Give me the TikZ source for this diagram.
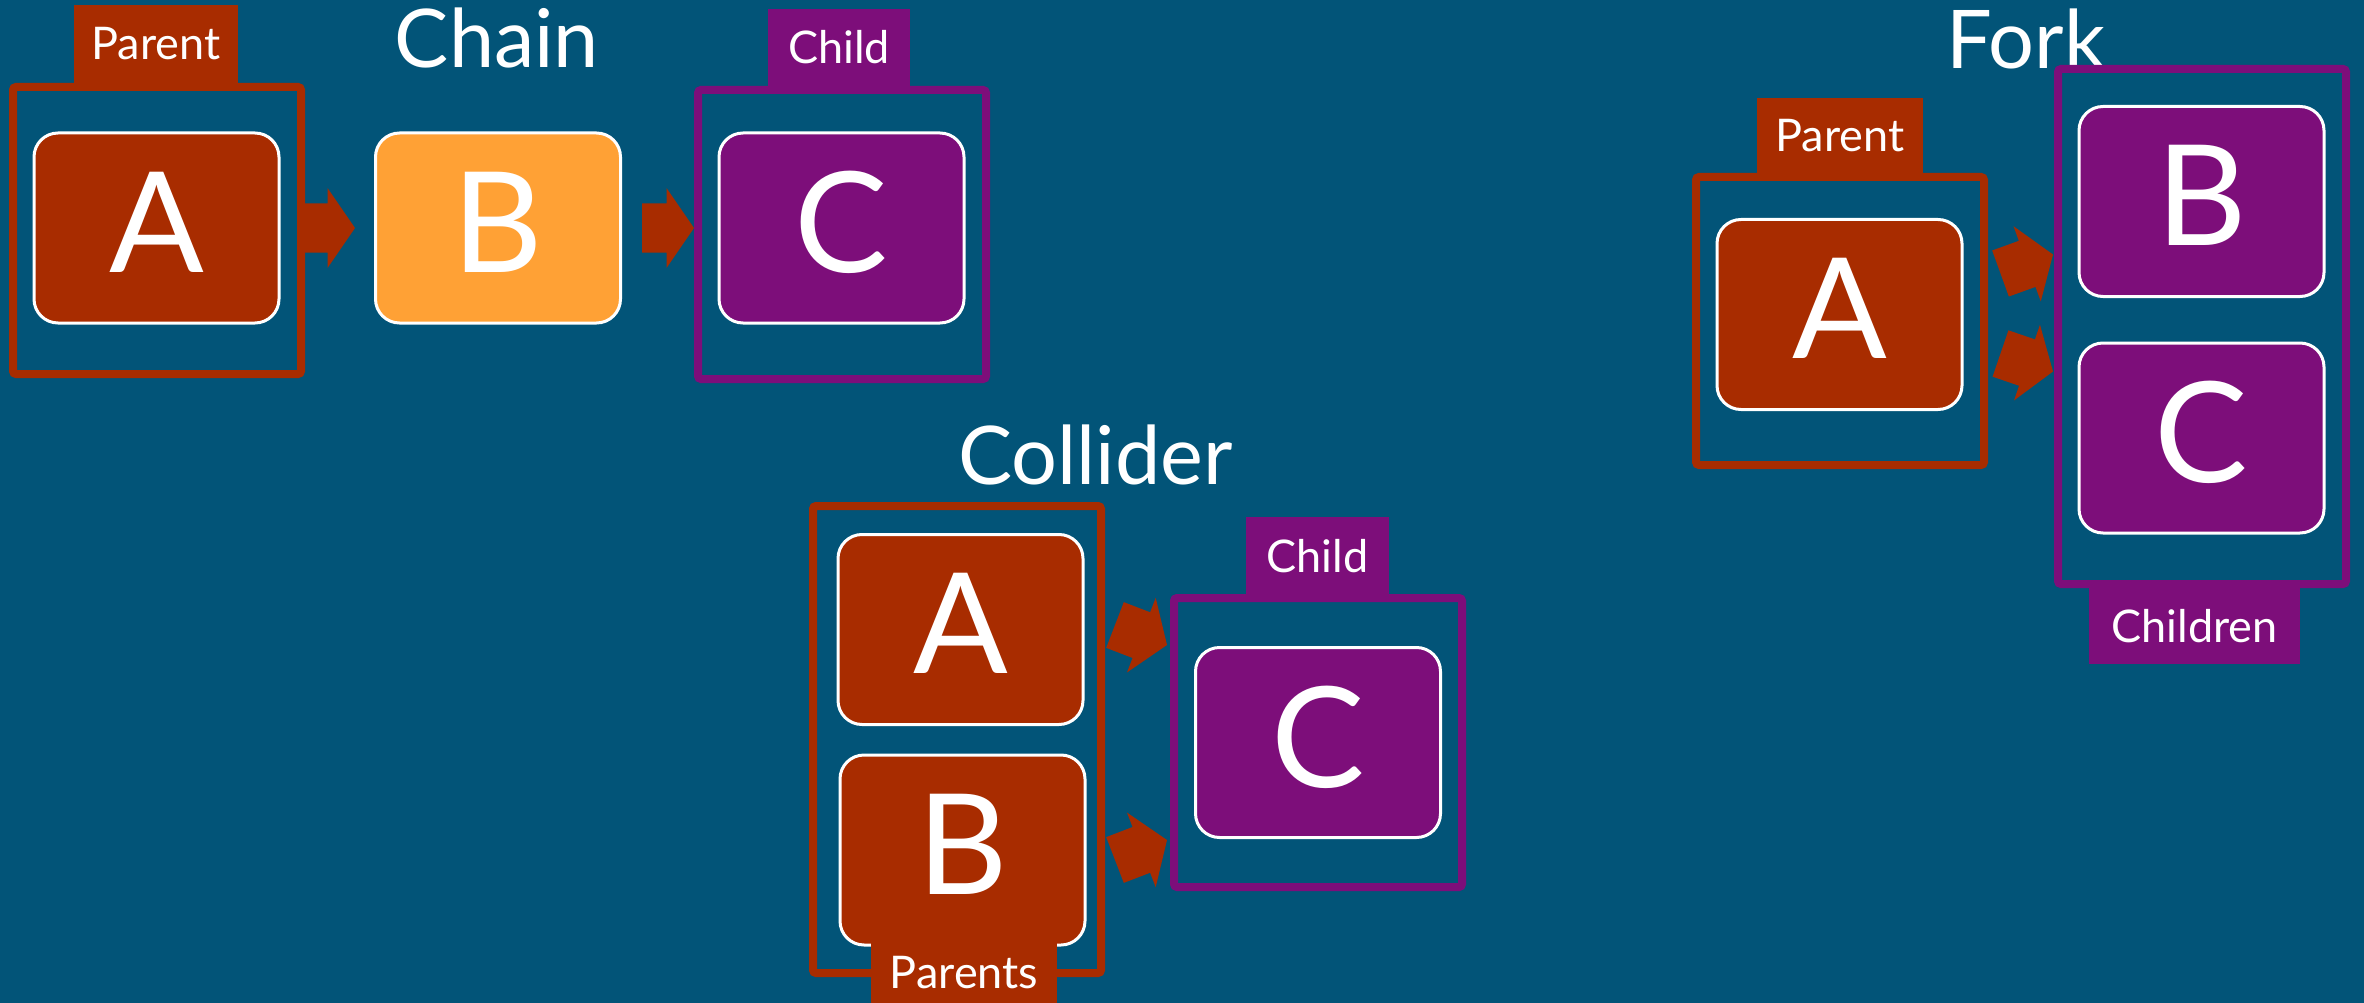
\documentclass[tikz,border=0pt]{standalone}
\usepackage{fontspec}
\setmainfont{Lato}
\usetikzlibrary{calc}

\definecolor{bgblue}{RGB}{2,84,120}
\definecolor{rust}{RGB}{168,44,0}
\definecolor{amber}{RGB}{255,161,53}
\definecolor{plum}{RGB}{125,14,122}

% block arrow from tail coordinate #1 to tip coordinate #2
\newcommand\blockarrow[2]{%
  \path ($(#2)!27.5pt!(#1)$) coordinate (neck);
  \fill[rust] ($(#1)!24.5pt!90:(#2)$) -- ($(neck)!24.5pt!90:(#2)$)
    -- ($(neck)!40pt!90:(#2)$) -- (#2) -- ($(neck)!40pt!-90:(#2)$)
    -- ($(neck)!24.5pt!-90:(#2)$) -- ($(#1)!24.5pt!-90:(#2)$) -- cycle;}

\tikzset{
  groupframe/.style={draw=#1, line width=8pt, rounded corners=3pt, inner sep=0pt, minimum width=288pt},
  tagbox/.style={fill=#1, inner sep=0pt, text=white, font=\fontsize{45}{54}\selectfont},
  varbox/.style={fill=#1, draw=white, line width=3pt, rounded corners=24pt, inner sep=0pt,
    minimum width=245pt, minimum height=190pt, text=white, text depth=12pt,
    font=\fontsize{140}{160}\selectfont},
  heading/.style={text=white, inner sep=0pt, anchor=base, font=\fontsize{81}{96}\selectfont}
}

\begin{document}
\begin{tikzpicture}[x=1pt, y=-1pt]
\useasboundingbox (0,0) rectangle (2364,1003);
\fill[bgblue] (0,0) rectangle (2364,1003);

% ---- Chain ----
\node[heading] (chainTitle) at (497,68) {Chain};
\node[tagbox=rust, minimum width=164pt, minimum height=78pt] (cParentLbl) at (156,44) {Parent};
\node[groupframe=rust, minimum height=287pt] (cParentFrame) at (157,230.5) {};
\node[varbox=rust] (cA) at (156.5,228) {A};
\node[varbox=amber] (cB) at (498,228) {B};
\node[tagbox=plum, minimum width=142pt, minimum height=77pt] (cChildLbl) at (839,47.5) {Child};
\node[groupframe=plum, minimum height=289pt] (cChildFrame) at (842,234.5) {};
\node[varbox=plum] (cC) at (841.5,228) {C};

% ---- Collider ----
\node[heading] (colliderTitle) at (1095.5,484) {Collider};
\node[groupframe=rust, minimum height=467pt] (kParentsFrame) at (957,739.5) {};
\node[varbox=rust] (kA) at (960.5,629.5) {A};
\node[varbox=rust] (kB) at (962.5,850) {B};
\node[tagbox=rust, minimum width=186pt, minimum height=61pt] (kParentsLbl) at (964,972.5) {Parents};
\node[tagbox=plum, minimum width=143pt, minimum height=78pt] (kChildLbl) at (1317.5,556) {Child};
\node[groupframe=plum, minimum height=289pt] (kChildFrame) at (1318,742.5) {};
\node[varbox=plum] (kC) at (1318,742.5) {C};

% ---- Fork ----
\node[heading] (forkTitle) at (2026,69) {Fork};
\node[tagbox=rust, minimum width=166pt, minimum height=75pt] (fParentLbl) at (1840,135.5) {Parent};
\node[groupframe=rust, minimum height=288pt] (fParentFrame) at (1840,321) {};
\node[varbox=rust] (fA) at (1839.5,314.5) {A};
\node[groupframe=plum, minimum height=515pt] (fChildrenFrame) at (2202,326.5) {};
\node[varbox=plum] (fB) at (2201.5,201.5) {B};
\node[varbox=plum] (fC) at (2201.5,438) {C};
\node[tagbox=plum, minimum width=211pt, minimum height=76pt] (fChildrenLbl) at (2194.5,626) {Children};

% ---- arrows ----
\coordinate (a1t) at (cParentFrame.east |- cA.center);
\coordinate (a1h) at ($(a1t)!50pt!(cB.west)$);
\blockarrow{a1t}{a1h}
\coordinate (a2h) at (cChildFrame.west |- cC.center);
\coordinate (a2t) at ($(a2h)!52pt!(cB.east)$);
\blockarrow{a2t}{a2h}

\coordinate (kmid) at (kParentsFrame.east |- kChildFrame.center);
\coordinate (k1t) at ($(kmid)+(10,-117.5)$);
\coordinate (k1h) at ($(kChildFrame.west)+(-3,-97.5)$);
\coordinate (k2t) at ($(kmid)+(10,117.5)$);
\coordinate (k2h) at ($(kChildFrame.west)+(-3,97.5)$);
\blockarrow{k1t}{k1h}
\blockarrow{k2t}{k2h}

\coordinate (fmid) at (fParentFrame.east |- fA.center);
\coordinate (fend) at (fChildrenFrame.west |- fA.center);
\coordinate (f1t) at ($(fmid)+(12.5,-41)$);
\coordinate (f1h) at ($(fend)+(-1,-60)$);
\coordinate (f2t) at ($(fmid)+(12.5,39)$);
\coordinate (f2h) at ($(fend)+(-1,57)$);
\blockarrow{f1t}{f1h}
\blockarrow{f2t}{f2h}
\end{tikzpicture}
\end{document}
